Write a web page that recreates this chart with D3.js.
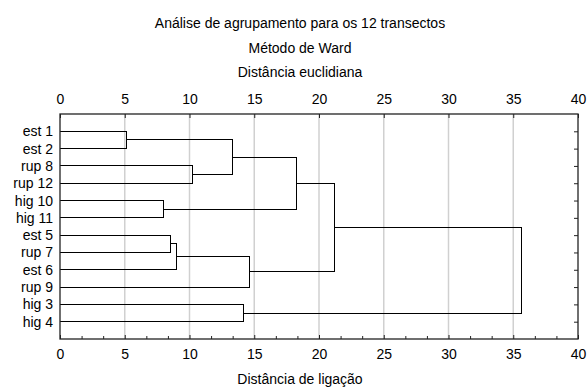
<!DOCTYPE html>
<html>
<head>
<meta charset="utf-8">
<script src="https://cdn.jsdelivr.net/npm/d3@7"></script>
<style>
  body { margin: 0; background: #fff; }
  text { font-family: "Liberation Sans", Arial, sans-serif; fill: #000; }
</style>
</head>
<body>
<div id="chart"></div>
<script>
// Plot constants
const WIDTH = 588;
const HEIGHT = 390;
const margin = {top: 114, right: 10, bottom: 51, left: 60};

// Data: leaves in display order, then the merges (node ids: leaves 0..11, clusters 12+)
const leaves = ["est 1", "est 2", "rup 8", "rup 12", "hig 10", "hig 11",
  "est 5", "rup 7", "est 6", "rup 9", "hig 3", "hig 4"];
const mergeLeft = [0, 2, 4, 6, 15, 12, 10, 16, 17, 20, 21];
const mergeRight = [1, 3, 5, 7, 8, 13, 11, 9, 14, 19, 18];
const mergeHeight = [5.1, 10.2, 8.0, 8.5, 9.0, 13.3, 14.2, 14.6, 18.25, 21.2, 35.65];

const titles = ["Análise de agrupamento para os 12 transectos", "Método de Ward", "Distância euclidiana"];
const xLabel = "Distância de ligação";
const xTicks = [0, 5, 10, 15, 20, 25, 30, 35, 40];

const svg = d3.select("#chart").append("svg")
  .attr("width", WIDTH)
  .attr("height", HEIGHT);

const x = d3.scaleLinear().domain([0, 40]).range([margin.left, WIDTH - margin.right]);
const y = d3.scalePoint().domain(leaves).range([margin.top, HEIGHT - margin.bottom]).padding(1);

// gridlines
svg.append("g")
  .selectAll("line")
  .data(xTicks.slice(1, -1))
  .join("line")
  .attr("x1", d => x(d)).attr("x2", d => x(d))
  .attr("y1", margin.top).attr("y2", HEIGHT - margin.bottom)
  .attr("stroke", "#d0d0d0")
  .attr("stroke-width", 1.5);

// dendrogram: height and y of every node
const nodeH = leaves.map(() => 0);
const nodeY = leaves.map(d => y(d));
mergeLeft.forEach((l, i) => {
  const r = mergeRight[i];
  nodeH.push(mergeHeight[i]);
  nodeY.push((nodeY[l] + nodeY[r]) / 2);
});

svg.append("g")
  .selectAll("path")
  .data(mergeLeft.map((l, i) => ({l, r: mergeRight[i], h: mergeHeight[i]})))
  .join("path")
  .attr("fill", "none")
  .attr("stroke", "#000")
  .attr("stroke-width", 1)
  .attr("shape-rendering", "crispEdges")
  .attr("d", d => {
    const p = d3.path();
    p.moveTo(x(nodeH[d.l]), nodeY[d.l]);
    p.lineTo(x(d.h), nodeY[d.l]);
    p.lineTo(x(d.h), nodeY[d.r]);
    p.lineTo(x(nodeH[d.r]), nodeY[d.r]);
    return p.toString();
  });

// axes
const fontSize = "14px";
svg.append("g")
  .attr("transform", `translate(0,${margin.top})`)
  .call(d3.axisTop(x).tickValues(xTicks).tickSize(-4).tickPadding(10));
svg.append("g")
  .attr("transform", `translate(0,${HEIGHT - margin.bottom})`)
  .call(d3.axisBottom(x).tickValues(xTicks).tickSize(-4).tickPadding(10));
const minor = d3.range(0, 40.001, 5 / 3).filter(v => Math.abs(v / 5 - Math.round(v / 5)) > 0.01);
svg.append("g")
  .attr("transform", `translate(0,${HEIGHT - margin.bottom})`)
  .call(d3.axisBottom(x).tickValues(minor).tickSize(-3).tickFormat(""));
svg.append("g")
  .attr("transform", `translate(${margin.left},0)`)
  .call(d3.axisLeft(y).tickSize(0).tickPadding(7));
svg.append("g")
  .attr("transform", `translate(${WIDTH - margin.right},0)`)
  .call(d3.axisRight(y).tickSize(-4).tickFormat(""));

svg.selectAll(".domain").remove();
svg.selectAll(".tick line").attr("stroke", "#222");
svg.selectAll(".tick text")
  .style("font-size", fontSize)
  .style("font-family", "'Liberation Sans', Arial, sans-serif");

// frame
svg.append("rect")
  .attr("x", margin.left)
  .attr("y", margin.top)
  .attr("width", WIDTH - margin.right - margin.left)
  .attr("height", HEIGHT - margin.bottom - margin.top)
  .attr("fill", "none")
  .attr("stroke", "#222")
  .attr("stroke-width", 1.3);

// titles
svg.append("g")
  .selectAll("text")
  .data(titles)
  .join("text")
  .attr("x", 300)
  .attr("y", (d, i) => 28 + i * 24.5)
  .attr("text-anchor", "middle")
  .style("font-size", fontSize)
  .text(d => d);

svg.append("text")
  .attr("x", 300)
  .attr("y", 384)
  .attr("text-anchor", "middle")
  .style("font-size", fontSize)
  .text(xLabel);
</script>
</body>
</html>
